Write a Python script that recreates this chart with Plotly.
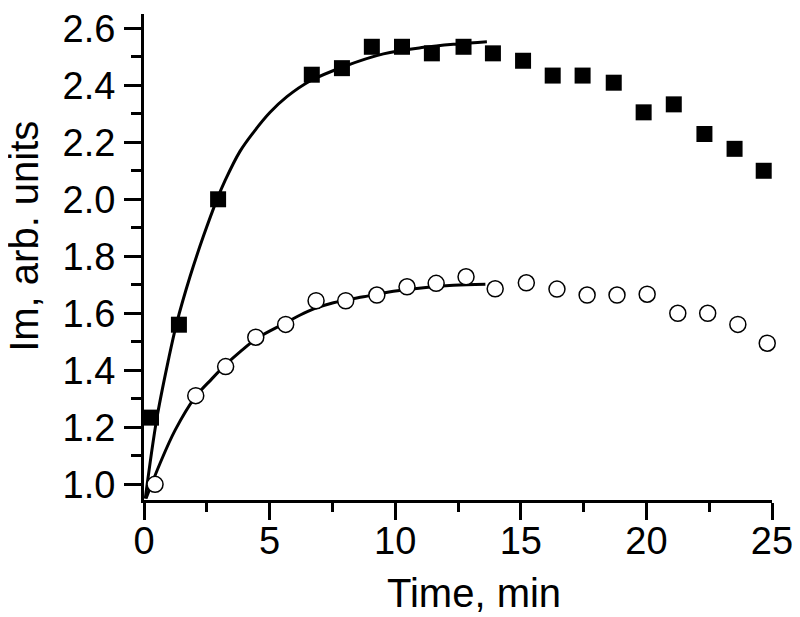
import plotly.graph_objects as go

# Measured data: filled squares
sq_x = [0.28, 1.39, 2.95, 6.68, 7.88, 9.07, 10.27, 11.46, 12.72, 13.89, 15.09, 16.27,
        17.46, 18.70, 19.89, 21.09, 22.31, 23.51, 24.67]
sq_y = [1.234, 1.56, 2.00, 2.437, 2.46, 2.535, 2.535, 2.512, 2.535, 2.512, 2.486, 2.434,
        2.434, 2.409, 2.305, 2.333, 2.229, 2.177, 2.10]

# Measured data: open circles
ci_x = [0.44, 2.06, 3.25, 4.45, 5.64, 6.85, 8.03, 9.27, 10.47, 11.63, 12.82, 13.98,
        15.22, 16.44, 17.64, 18.83, 20.03, 21.25, 22.44, 23.64, 24.81]
ci_y = [1.0, 1.311, 1.413, 1.516, 1.561, 1.644, 1.644, 1.664, 1.693, 1.705, 1.728, 1.686,
        1.707, 1.685, 1.664, 1.664, 1.667, 1.60, 1.60, 1.561, 1.495]

# Fit curve for squares
fit_sq_x = [0.05, 0.5, 0.97, 1.30, 1.83, 2.36, 2.9, 3.23, 3.82, 4.36, 5.02, 5.69, 6.61,
            7.94, 9.53, 11.13, 12.46, 13.65]
fit_sq_y = [0.95, 1.226, 1.436, 1.565, 1.728, 1.869, 1.998, 2.066, 2.168, 2.235, 2.305, 2.36,
            2.415, 2.465, 2.51, 2.533, 2.545, 2.553]

# Fit curve for circles
fit_ci_x = [0.08, 0.64, 1.24, 2.03, 2.70, 3.23, 3.89, 4.49, 5.62, 6.22, 6.81, 7.54, 8.74,
            9.93, 11.13, 12.32, 13.59]
fit_ci_y = [0.95, 1.074, 1.19, 1.305, 1.37, 1.418, 1.47, 1.512, 1.566, 1.594, 1.617, 1.637,
            1.658, 1.677, 1.690, 1.698, 1.702]

x_ticks = [0, 5, 10, 15, 20, 25]
y_ticks = [1.0, 1.2, 1.4, 1.6, 1.8, 2.0, 2.2, 2.4, 2.6]
y_tick_text = ["1.0", "1.2", "1.4", "1.6", "1.8", "2.0", "2.2", "2.4", "2.6"]
x_title = "Time, min"
y_title = "Im, arb. units"

fig = go.Figure()
fig.add_trace(go.Scatter(x=fit_sq_x, y=fit_sq_y, mode="lines",
                         line=dict(color="black", width=3, shape="spline", smoothing=1.0),
                         hoverinfo="skip"))
fig.add_trace(go.Scatter(x=fit_ci_x, y=fit_ci_y, mode="lines",
                         line=dict(color="black", width=3, shape="spline", smoothing=1.0),
                         hoverinfo="skip"))
fig.add_trace(go.Scatter(x=sq_x, y=sq_y, mode="markers",
                         marker=dict(symbol="square", size=16, color="black",
                                     line=dict(width=0))))
fig.add_trace(go.Scatter(x=ci_x, y=ci_y, mode="markers",
                         marker=dict(symbol="circle", size=16, color="white",
                                     line=dict(color="black", width=1.5))))

font = dict(family="Liberation Sans, Arial, sans-serif", color="black")

fig.update_layout(
    width=800, height=617,
    # page body adds an 8px offset; margins compensate so the plot area sits at 144..772 x 14..500
    margin=dict(l=136, r=36, t=6, b=125),
    paper_bgcolor="white", plot_bgcolor="white",
    showlegend=False,
    font=font,
    xaxis=dict(
        range=[0, 25], tickvals=x_ticks, ticks="outside", ticklen=17, tickwidth=3,
        tickcolor="black", showline=True, linecolor="black", linewidth=3,
        showgrid=False, zeroline=False, tickfont=dict(size=38, **font),
        ticklabelstandoff=-12, automargin=False, ticklabeloverflow="allow",
        minor=dict(dtick=2.5, ticks="outside", ticklen=9, tickwidth=3, tickcolor="black",
                   showgrid=False),
    ),
    yaxis=dict(
        range=[0.945, 2.65], tickvals=y_ticks, ticktext=y_tick_text, ticks="outside",
        ticklen=17, tickwidth=3, tickcolor="black", showline=True, linecolor="black",
        linewidth=3, showgrid=False, zeroline=False, tickfont=dict(size=38, **font),
        ticklabelstandoff=1, automargin=False, ticklabeloverflow="allow",
        minor=dict(dtick=0.1, tick0=1.0, ticks="outside", ticklen=10, tickwidth=3,
                   tickcolor="black", showgrid=False),
    ),
    annotations=[
        dict(text=x_title, xref="paper", yref="paper", x=0.5255, y=-0.191,
             xanchor="center", yanchor="middle", showarrow=False,
             font=dict(size=40, **font)),
        dict(text=y_title, xref="paper", yref="paper", x=-0.1915, y=0.543,
             xanchor="center", yanchor="middle", showarrow=False, textangle=-90,
             font=dict(size=40, **font)),
    ],
)
for tr in fig.data:
    tr.cliponaxis = False

fig.write_html("out.html")
